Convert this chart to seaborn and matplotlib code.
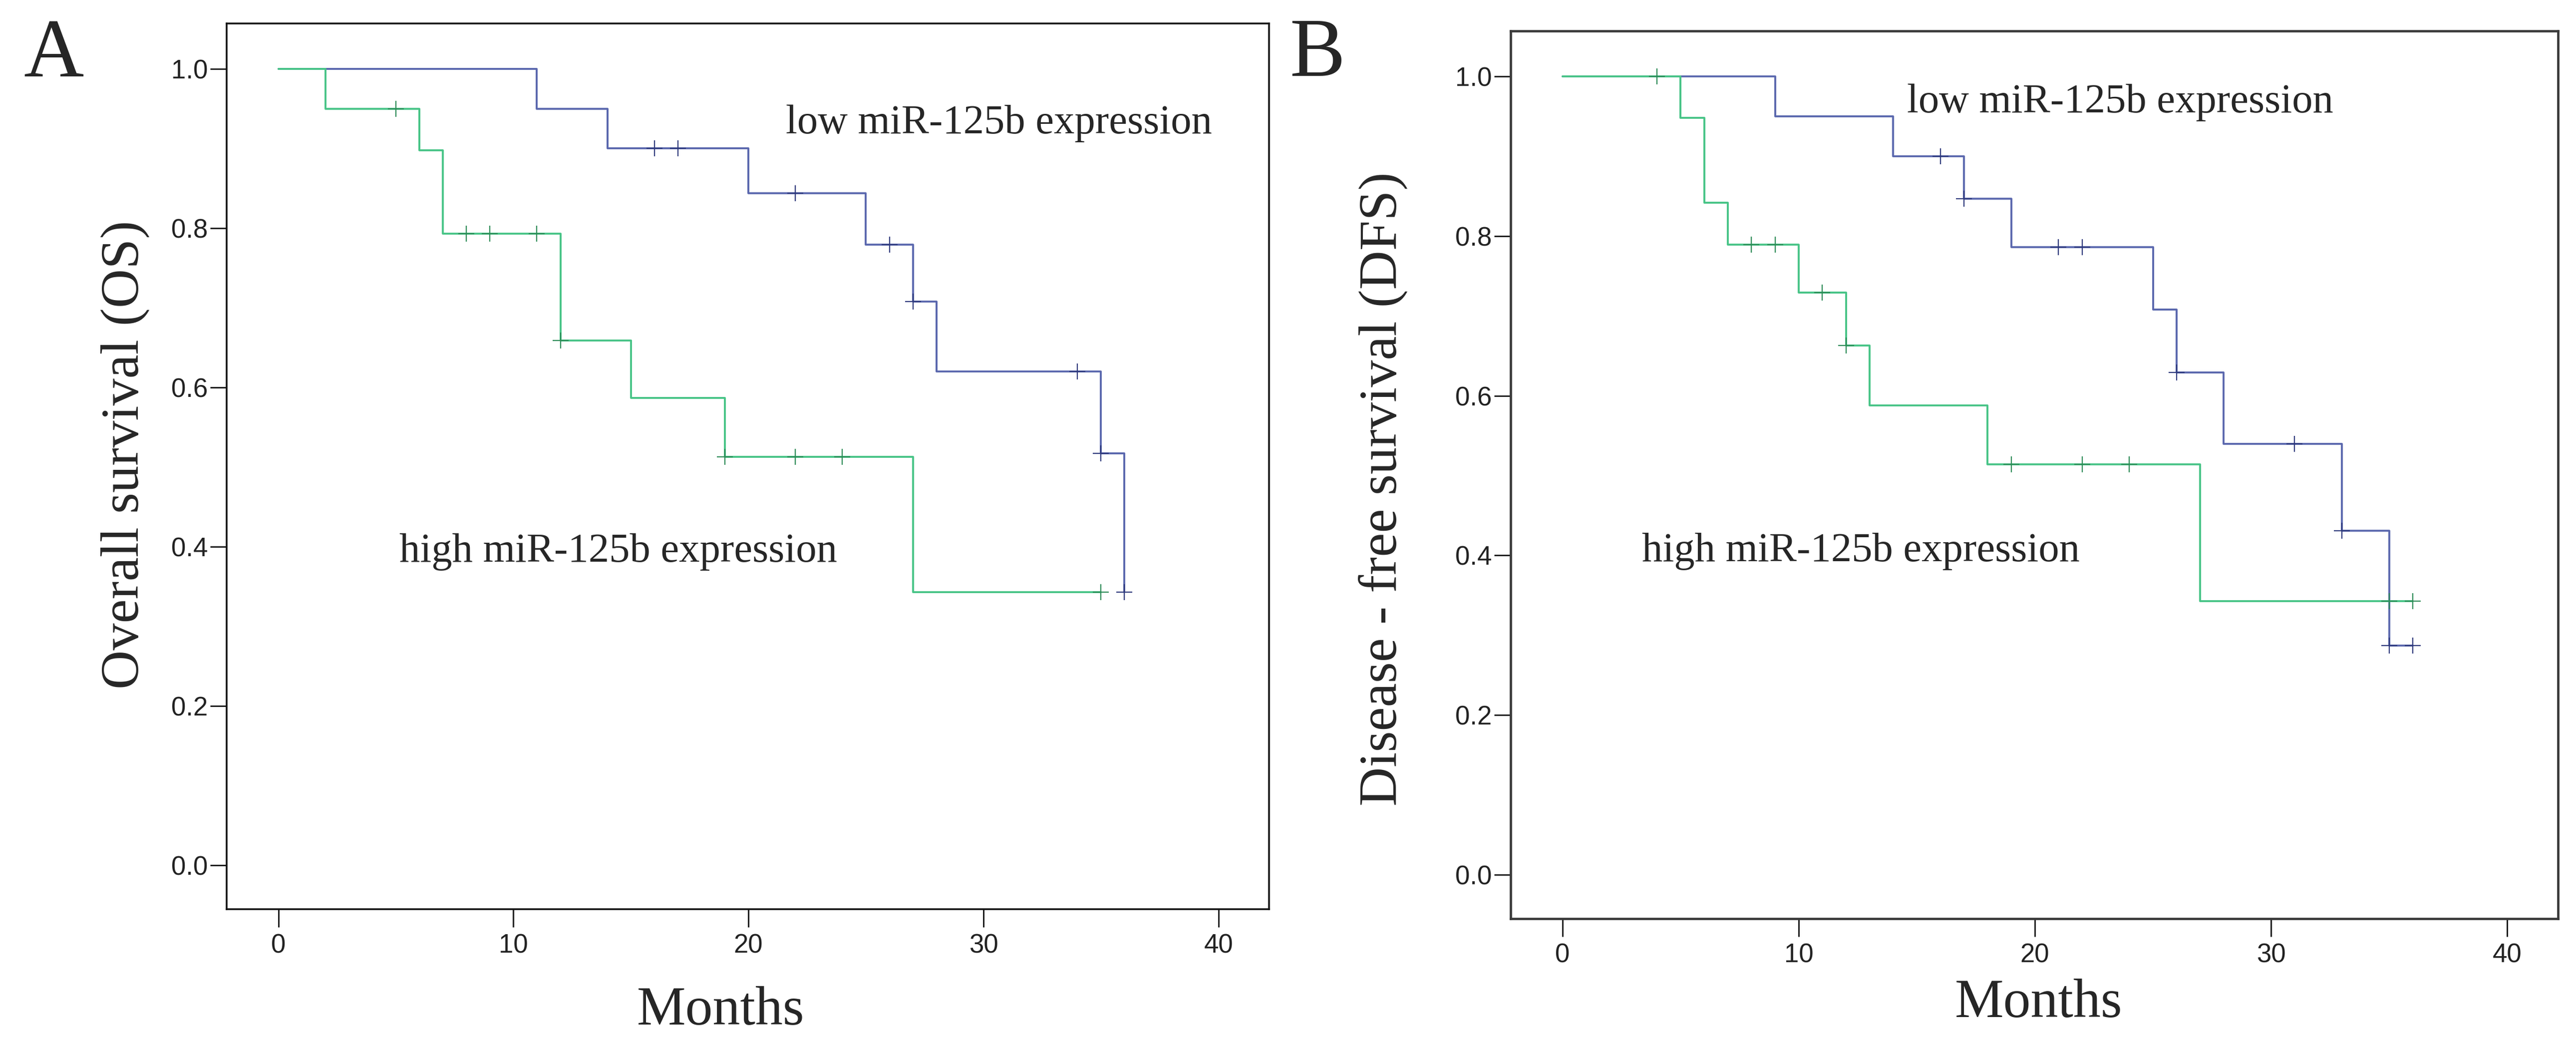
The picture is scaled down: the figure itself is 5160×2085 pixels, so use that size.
import numpy as np
import pandas as pd
import seaborn as sns
import matplotlib.pyplot as plt

# Kaplan-Meier steps: event times (months) and survival after each event
os_low_t = [0, 11, 14, 20, 25, 27, 28, 35, 36]
os_low_s = [1.0, 0.95, 0.90, 0.844, 0.779, 0.708, 0.620, 0.517, 0.343]
os_low_cens = [16, 17, 22, 26, 27, 34, 35, 36]

os_high_t = [0, 2, 6, 7, 12, 15, 19, 27, 35]
os_high_s = [1.0, 0.95, 0.898, 0.793, 0.659, 0.587, 0.513, 0.343, 0.343]
os_high_cens = [5, 8, 9, 11, 12, 19, 22, 24, 35]

dfs_low_t = [0, 9, 14, 17, 19, 25, 26, 28, 33, 35, 36]
dfs_low_s = [1.0, 0.95, 0.90, 0.847, 0.786, 0.708, 0.629, 0.54, 0.431, 0.287, 0.287]
dfs_low_cens = [16, 17, 21, 22, 26, 31, 33, 35, 36]

dfs_high_t = [0, 5, 6, 7, 10, 12, 13, 18, 27, 36]
dfs_high_s = [1.0, 0.948, 0.842, 0.789, 0.729, 0.663, 0.588, 0.514, 0.343, 0.343]
dfs_high_cens = [4, 8, 9, 11, 12, 19, 22, 24, 35, 36]

x_ticks = [0, 10, 20, 30, 40]
y_ticks = [0.0, 0.2, 0.4, 0.6, 0.8, 1.0]

BLUE = "#5b68ae"
BLUE_DARK = "#2f3a7c"
GREEN = "#48c487"
GREEN_DARK = "#2e8c58"

sns.set_style("ticks")
plt.rcParams['font.family'] = ['Liberation Sans', 'DejaVu Sans']
SERIF = ['Liberation Serif', 'DejaVu Serif']


def step_value(times, surv, t):
	idx = np.searchsorted(times, t, side='right') - 1
	return surv[idx]


def km_curve(ax, times, surv, cens, color, mark_color):
	df = pd.DataFrame({'month': times, 'surv': surv})
	sns.lineplot(x='month', y='surv', data=df, ax=ax, color=color,
		drawstyle='steps-post', linewidth=2.8, estimator=None, sort=False)
	cdf = pd.DataFrame({'month': cens,
		'surv': [step_value(times, surv, t) for t in cens]})
	sns.scatterplot(x='month', y='surv', data=cdf, ax=ax, marker='+',
		s=520, color=mark_color, linewidth=1.6, zorder=4)


def style_axes(ax, ylabel, spine_color, spine_w):
	ax.set_xlim(-2.2, 42.15)
	ax.set_ylim(-0.055, 1.057)
	ax.set_xticks(x_ticks)
	ax.set_xticklabels([str(v) for v in x_ticks])
	ax.set_yticks(y_ticks)
	ax.set_yticklabels(["%.1f" % v for v in y_ticks])
	for sp in ax.spines.values():
		sp.set_visible(True)
		sp.set_color(spine_color)
		sp.set_linewidth(spine_w)
	ax.tick_params(axis='x', direction='out', length=26, width=2.2,
		pad=9, labelsize=38, colors='#222222')
	ax.tick_params(axis='y', direction='out', length=24, width=2.2,
		pad=3, labelsize=38, colors='#222222')
	ax.set_xlabel("Months", fontsize=79, family=SERIF, va='baseline')
	ax.set_ylabel(ylabel, fontsize=78, family=SERIF)


fig = plt.figure(figsize=(51.6, 20.85), dpi=100)

ax_a = fig.add_axes([0.0880, 0.1266, 0.4046, 0.8509])
km_curve(ax_a, os_low_t, os_low_s, os_low_cens, BLUE, BLUE_DARK)
km_curve(ax_a, os_high_t, os_high_s, os_high_cens, GREEN, GREEN_DARK)
style_axes(ax_a, "Overall survival (OS)", '#151515', 2.6)
ax_a.xaxis.set_label_coords(0.474, -0.130)
ax_a.yaxis.set_label_coords(-0.074, 0.513)
ax_a.text(21.6, 0.919, "low miR-125b expression", fontsize=59.5, family=SERIF)
ax_a.text(5.14, 0.381, "high miR-125b expression", fontsize=59.5, family=SERIF)

ax_b = fig.add_axes([0.5864, 0.1175, 0.4066, 0.8528])
km_curve(ax_b, dfs_low_t, dfs_low_s, dfs_low_cens, BLUE, BLUE_DARK)
km_curve(ax_b, dfs_high_t, dfs_high_s, dfs_high_cens, GREEN, GREEN_DARK)
style_axes(ax_b, "Disease - free survival (DFS)", '#3a3a3a', 3.4)
ax_b.xaxis.set_label_coords(0.504, -0.111)
ax_b.yaxis.set_label_coords(-0.098, 0.484)
ax_b.text(14.58, 0.955, "low miR-125b expression", fontsize=59.5, family=SERIF)
ax_b.text(3.37, 0.3925, "high miR-125b expression", fontsize=59.5, family=SERIF)

fig.text(47 / 5160, 1 - 153 / 2085, "A", fontsize=120, family=SERIF, va='baseline')
fig.text(2583 / 5160, 1 - 152 / 2085, "B", fontsize=120, family=SERIF, va='baseline')

fig.savefig("out.png", dpi=100, facecolor='white')
